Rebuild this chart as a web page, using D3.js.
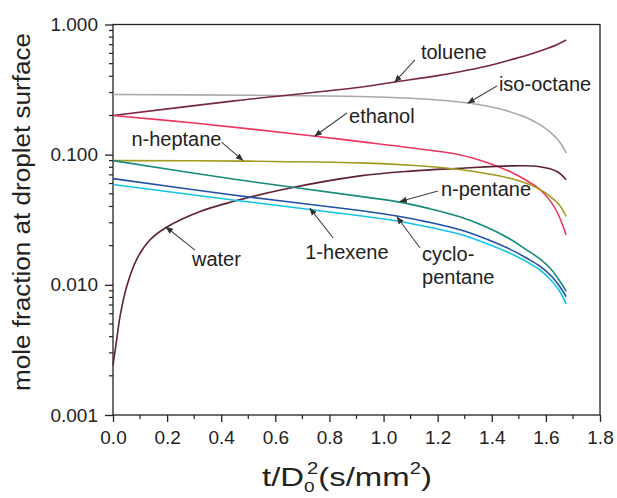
<!DOCTYPE html>
<html><head><meta charset="utf-8">
<script src="https://cdn.jsdelivr.net/npm/d3@7"></script>
<style>
html,body{margin:0;padding:0;background:#fff;}
svg{display:block;}
text{font-family:"Liberation Sans",Arial,Helvetica,sans-serif;fill:#222;}
</style></head>
<body><svg id="chart" width="617" height="498"></svg>
<script>
// ---- data ----
const xTicks = [0,0.2,0.4,0.6,0.8,1.0,1.2,1.4,1.6,1.8];
const xTickLabels = ["0.0","0.2","0.4","0.6","0.8","1.0","1.2","1.4","1.6","1.8"];
const yTicks = [0.001,0.01,0.1,1];
const yTickLabels = ["0.001","0.010","0.100","1.000"];

const tolueneT = [0,0.456,0.913,1.042,1.2,1.282,1.38,1.467,1.53,1.589,1.64,1.675];
const tolueneX = [0.2,0.26,0.33,0.362,0.405,0.434,0.478,0.534,0.58,0.637,0.7,0.76];

const isoOctaneT = [0,0.5,0.913,1.1,1.2,1.32,1.4,1.467,1.53,1.589,1.63,1.655,1.675];
const isoOctaneX = [0.29,0.286,0.28,0.271,0.263,0.248,0.232,0.214,0.192,0.164,0.14,0.122,0.103];

const ethanolT = [0,0.3,0.74,0.913,1.1,1.28,1.39,1.48,1.53,1.578,1.62,1.645,1.675];
const ethanolX = [0.2,0.175,0.139,0.126,0.113,0.1,0.086,0.072,0.063,0.054,0.043,0.035,0.0242];

const heptaneT = [0,0.5,0.913,1.1,1.282,1.4,1.467,1.52,1.578,1.62,1.65,1.675];
const heptaneX = [0.09,0.0892,0.0865,0.083,0.077,0.0705,0.066,0.061,0.054,0.047,0.041,0.0335];

const pentaneT = [0,0.443,0.913,1.06,1.17,1.282,1.38,1.467,1.53,1.578,1.62,1.65,1.675];
const pentaneX = [0.09,0.065,0.0478,0.0432,0.0385,0.0333,0.0278,0.0225,0.0185,0.0158,0.0131,0.0108,0.0089];

const hexeneT = [0,0.443,0.913,1.06,1.17,1.282,1.38,1.467,1.53,1.578,1.62,1.65,1.675];
const hexeneX = [0.0655,0.049,0.0372,0.0335,0.0302,0.0265,0.0225,0.0188,0.016,0.0139,0.0117,0.0098,0.0081];

const cycloT = [0,0.443,0.913,1.06,1.17,1.282,1.38,1.467,1.53,1.578,1.62,1.65,1.675];
const cycloX = [0.059,0.0449,0.0339,0.0307,0.0277,0.0245,0.0208,0.0175,0.015,0.013,0.0108,0.009,0.0071];

const waterT = [0,0.0137,0.0259,0.0506,0.0876,0.137,0.198,0.322,0.443,0.628,0.913,1.1,1.282,1.467,1.578,1.641,1.675];
const waterX = [0.0024,0.0038,0.0057,0.0097,0.0157,0.0222,0.0277,0.0366,0.0436,0.054,0.0687,0.0748,0.0786,0.082,0.0808,0.0742,0.0641];

const seriesNames = ["iso-octane","toluene","ethanol","water","n-heptane","n-pentane","1-hexene","cyclo-pentane"];
const seriesT = [isoOctaneT,tolueneT,ethanolT,waterT,heptaneT,pentaneT,hexeneT,cycloT];
const seriesX = [isoOctaneX,tolueneX,ethanolX,waterX,heptaneX,pentaneX,hexeneX,cycloX];
const seriesColors = ["#a9a9a9","#7a2842","#ec3760","#5e2232","#a39a1e","#168a7c","#2250a8","#14c4e6"];

// annotations: label, arrow tip (data), tail (data)
const annLabels = ["toluene","iso-octane","ethanol","n-heptane","n-pentane","1-hexene","cyclo-|pentane","water"];
const annTipT = [1.042,1.312,0.746,0.48,1.061,0.728,1.050,0.196];
const annTipV = [0.362,0.249,0.139,0.0905,0.0436,0.0387,0.0332,0.0278];
const annTailT = [1.116,1.419,0.865,0.401,1.201,0.814,1.135,0.303];
const annTailV = [0.534,0.337,0.209,0.125,0.0526,0.0229,0.0192,0.0185];

// ---- layout ----
const svg = d3.select("#chart");
const M = {left:113, top:24.5, right:600, bottom:415};
const x = d3.scaleLinear().domain([0,1.8]).range([M.left,M.right]);
const y = d3.scaleLog().domain([0.001,1]).range([M.bottom,M.top]);

// frame
svg.append("rect").attr("x",M.left).attr("y",M.top)
  .attr("width",M.right-M.left).attr("height",M.bottom-M.top)
  .attr("fill","none").attr("stroke","#222").attr("stroke-width",1.3);

// x axis
const xMinor = d3.range(0,19).map(i=>i/10).filter(v=>Math.round(v*10)%2===1);
const xAxis = d3.axisBottom(x).tickValues(xTicks)
  .tickFormat((d,i)=>xTickLabels[i]).tickSize(7).tickPadding(9);
const gx = svg.append("g").attr("transform",`translate(0,${M.bottom})`).call(xAxis);
gx.select(".domain").remove();
gx.selectAll("line").attr("stroke","#222").attr("stroke-width",1.3);
gx.selectAll("text").attr("font-size",19).attr("fill","#222")
  .style("font-family","'Liberation Sans',Arial,sans-serif");
svg.append("g").selectAll("line").data(xMinor).join("line")
  .attr("x1",d=>x(d)).attr("x2",d=>x(d)).attr("y1",M.bottom).attr("y2",M.bottom+4)
  .attr("stroke","#222").attr("stroke-width",1.2);

// y axis
const yMinor = [];
[0.001,0.01,0.1].forEach(dec=>{for(let k=2;k<=9;k++) yMinor.push(dec*k);});
const yAxis = d3.axisLeft(y).tickValues(yTicks)
  .tickFormat((d,i)=>yTickLabels[i]).tickSize(8).tickPadding(7);
const gy = svg.append("g").attr("transform",`translate(${M.left},0)`).call(yAxis);
gy.select(".domain").remove();
gy.selectAll("line").attr("stroke","#222").attr("stroke-width",1.3);
gy.selectAll("text").attr("font-size",19).attr("fill","#222")
  .style("font-family","'Liberation Sans',Arial,sans-serif");
svg.append("g").selectAll("line").data(yMinor).join("line")
  .attr("x1",M.left-4).attr("x2",M.left).attr("y1",d=>y(d)).attr("y2",d=>y(d))
  .attr("stroke","#222").attr("stroke-width",1.2);

// axis titles
svg.append("text").attr("transform",`translate(30,212) rotate(-90)`)
  .attr("text-anchor","middle").attr("font-size",23)
  .attr("textLength",358).attr("lengthAdjust","spacingAndGlyphs")
  .text("mole fraction at droplet surface");

const xg = svg.append("g");
const xl = xg.append("text").attr("x",262).attr("y",486).attr("font-size",26);
xl.append("tspan").text("t/D");
xl.append("tspan").attr("font-size",15).attr("dy",6).text("0");
xl.append("tspan").attr("font-size",16).attr("dx",-6).attr("dy",-18).text("2");
xl.append("tspan").attr("dy",12).text("(s/mm");
xl.append("tspan").attr("font-size",16).attr("dy",-12).text("2");
xl.append("tspan").attr("dy",12).text(")");
const bb = xl.node().getBBox();
const sx = 170/bb.width;
xg.attr("transform",`translate(262,0) scale(${sx},1) translate(-262,0)`);

// curves
const line = d3.line().x(d=>x(d[0])).y(d=>y(d[1])).curve(d3.curveCatmullRom.alpha(0.5));
seriesNames.forEach((name,i)=>{
  const pts = seriesT[i].map((t,j)=>[t,seriesX[i][j]]);
  svg.append("path").datum(pts).attr("d",line)
    .attr("fill","none").attr("stroke",seriesColors[i]).attr("stroke-width",1.6)
    .attr("class","series").attr("data-name",name);
});

// arrow marker
svg.append("defs").append("marker").attr("id","arr")
  .attr("viewBox","0 0 10 10").attr("refX",9).attr("refY",5)
  .attr("markerWidth",7).attr("markerHeight",7).attr("orient","auto")
  .append("path").attr("d","M0,1 L10,5 L0,9 Z").attr("fill","#333");

// annotations
const labelPos = [
  {dx:6,dy:-1,anchor:"start"},
  {dx:2,dy:5,anchor:"start"},
  {dx:2,dy:10,anchor:"start"},
  {dx:0,dy:4,anchor:"end"},
  {dx:3,dy:5,anchor:"start"},
  {dx:-28,dy:21,anchor:"start"},
  {dx:2,dy:13,anchor:"start"},
  {dx:-3,dy:16,anchor:"start"}
];
annLabels.forEach((lab,i)=>{
  const tx=x(annTailT[i]), ty=y(annTailV[i]);
  svg.append("line").attr("x1",tx).attr("y1",ty)
    .attr("x2",x(annTipT[i])).attr("y2",y(annTipV[i]))
    .attr("stroke","#444").attr("stroke-width",1.1).attr("marker-end","url(#arr)");
  const p = labelPos[i];
  const t = svg.append("text").attr("x",tx+p.dx).attr("y",ty+p.dy)
    .attr("text-anchor",p.anchor).attr("font-size",20);
  const parts = lab.split("|");
  parts.forEach((s,k)=>{
    t.append("tspan").attr("x",tx+p.dx).attr("dy",k===0?0:23).text(s);
  });
});
</script></body></html>
